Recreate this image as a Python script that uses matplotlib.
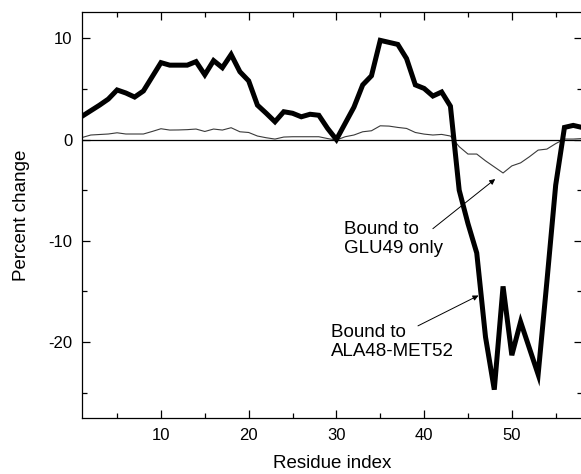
import numpy as np
import matplotlib
matplotlib.use('Agg')
from matplotlib import pyplot as plt
from matplotlib.ticker import MultipleLocator

plt.rcParams['font.family'] = ['Liberation Sans', 'DejaVu Sans']
plt.rcParams['axes.unicode_minus'] = False

# residue index 1..58
residue = np.arange(1, 59)

# percent change, bound to ALA48-MET52 (thick line)
ala48_met52 = [2.3, 2.85, 3.4, 4.0, 4.9, 4.6, 4.2, 4.8, 6.2, 7.6,
               7.35, 7.35, 7.35, 7.7, 6.4, 7.8, 7.1, 8.4, 6.7, 5.8,
               3.4, 2.6, 1.76, 2.75, 2.6, 2.25, 2.5, 2.4, 1.1, 0.0,
               1.6, 3.2, 5.4, 6.3, 9.8, 9.6, 9.4, 8.0, 5.4, 5.05,
               4.3, 4.7, 3.3, -5.0, -8.3, -11.2, -19.5, -24.7, -14.5, -21.3,
               -18.0, -20.6, -23.2, -14.0, -4.5, 1.2, 1.4, 1.2]

# percent change, bound to GLU49 only (thin line)
glu49_only = [0.2, 0.45, 0.5, 0.55, 0.67, 0.55, 0.55, 0.55, 0.8, 1.07,
              0.94, 0.95, 0.98, 1.04, 0.8, 1.04, 0.94, 1.17, 0.77, 0.7,
              0.35, 0.18, 0.05, 0.25, 0.28, 0.28, 0.28, 0.28, 0.1, -0.05,
              0.28, 0.45, 0.77, 0.87, 1.36, 1.33, 1.2, 1.1, 0.7, 0.54,
              0.45, 0.51, 0.35, -0.7, -1.43, -1.43, -2.1, -2.7, -3.3, -2.6,
              -2.3, -1.7, -1.04, -0.94, -0.4, 0.05, 0.05, 0.1]

fig = plt.figure(figsize=(5.81, 4.74), dpi=100)
ax = fig.add_axes([82/581, 1 - 418/474, 500/581, 406/474])

ax.axhline(0, color='black', lw=0.9, zorder=1)
ax.plot(residue, glu49_only, color='#3a3a3a', lw=0.8, zorder=2)
ax.plot(residue, ala48_met52, color='black', lw=3.6, solid_joinstyle='miter', zorder=3)

ax.set_xlim(1, 58)
ax.set_ylim(-27.5, 12.6)
ax.xaxis.set_major_locator(MultipleLocator(10))
ax.xaxis.set_minor_locator(MultipleLocator(5))
ax.yaxis.set_major_locator(MultipleLocator(10))
ax.yaxis.set_minor_locator(MultipleLocator(5))
ax.tick_params(which='both', direction='in', top=True, right=True, width=0.9, labelsize=12, pad=7)
ax.tick_params(which='major', length=6)
ax.tick_params(which='minor', length=3.5)
for s in ax.spines.values():
    s.set_linewidth(0.9)

ax.set_xlabel('Residue index', fontsize=13.5, labelpad=9)
ax.set_ylabel('Percent change', fontsize=13.5, labelpad=13)

ax.text(30.9, -9.8, 'Bound to\nGLU49 only', fontsize=13.5, va='center', ha='left', linespacing=1.15)
ax.annotate('', xy=(48.1, -3.9), xytext=(41.0, -8.8),
            arrowprops=dict(arrowstyle='-|>', lw=0.7, color='black', mutation_scale=8, shrinkA=0, shrinkB=0))
ax.text(29.4, -20.0, 'Bound to\nALA48-MET52', fontsize=13.5, va='center', ha='left', linespacing=1.15)
ax.annotate('', xy=(46.2, -15.4), xytext=(39.3, -18.4),
            arrowprops=dict(arrowstyle='-|>', lw=0.7, color='black', mutation_scale=8, shrinkA=0, shrinkB=0))

plt.savefig('out.png', dpi=100)
